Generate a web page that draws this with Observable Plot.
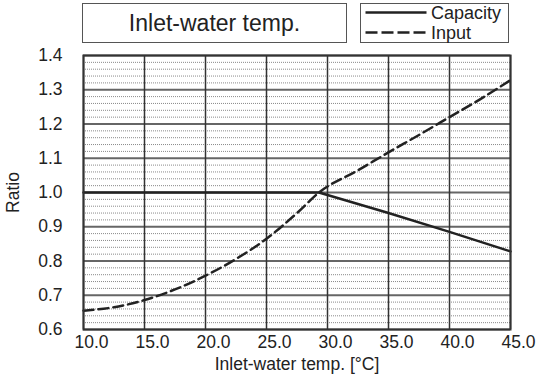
<!DOCTYPE html>
<html><head><meta charset="utf-8">
<script src="https://cdn.jsdelivr.net/npm/d3@7"></script>
<script src="https://cdn.jsdelivr.net/npm/@observablehq/plot@0.6"></script>
<style>
body{margin:0;background:#fff;font-family:"Liberation Sans",Arial,sans-serif;color:#222}
#wrap{position:relative;width:536px;height:378px;overflow:hidden}
#hdr{position:relative;height:48px}
.box{position:absolute;box-sizing:border-box;border:1.5px solid #555;background:#fff}
#title{left:82px;top:3px;width:265px;height:40px;font-size:23px;display:flex;align-items:center;justify-content:center}
#legend{left:360px;top:3px;width:149px;height:40px}
#legend svg{position:absolute;left:0;top:0;overflow:visible}
#chart svg{display:block}
</style></head>
<body>
<div id="wrap">
  <div id="hdr">
    <div class="box" id="title">Inlet-water temp.</div>
    <div class="box" id="legend"></div>
  </div>
  <div id="chart"></div>
</div>
<script>
// Data
const xTicks = [10, 15, 20, 25, 30, 35, 40, 45];
const yTicks = [0.6, 0.7, 0.8, 0.9, 1.0, 1.1, 1.2, 1.3, 1.4];
const seriesNames = ["Capacity", "Input"];
const capacityX = [10, 29.3, 35, 40, 45];
const capacityY = [1.0, 1.0, 0.94, 0.885, 0.828];
const inputX = [10, 12.5, 15, 17.5, 20, 22.5, 25, 27.5, 29.3, 32.5, 35, 37.5, 40, 42.5, 45];
const inputY = [0.655, 0.665, 0.686, 0.717, 0.757, 0.806, 0.865, 0.94, 1.0, 1.065, 1.117, 1.168, 1.22, 1.272, 1.328];

const capacity = capacityX.map((x, i) => ({x, y: capacityY[i]}));
const input = inputX.map((x, i) => ({x, y: inputY[i]}));
const minor = d3.range(30, 71).filter(v => v % 5 !== 0).map(v => v / 50);
const fmt = d3.format(".1f");
const font = '"Liberation Sans", Arial, sans-serif';

// Legend (HTML/SVG header)
const leg = d3.select("#legend").append("svg").attr("width", 146).attr("height", 37);
const rows = [{name: seriesNames[0], dash: null, y: 8.5}, {name: seriesNames[1], dash: "12,4", y: 28.5}];
rows.forEach(r => {
  leg.append("line").attr("x1", 4.5).attr("x2", 65.5).attr("y1", r.y).attr("y2", r.y)
    .attr("stroke", "#222").attr("stroke-width", 2.5).attr("stroke-dasharray", r.dash);
  leg.append("text").attr("x", 70).attr("y", r.y + 6.5).attr("font-size", 18)
    .attr("font-family", font).attr("fill", "#222").text(r.name);
});

const chart = Plot.plot({
  width: 536,
  height: 330,
  marginLeft: 83,
  marginRight: 26,
  marginTop: 7,
  marginBottom: 49,
  style: {fontFamily: font, fontSize: "17.5px", color: "#222", background: "#fff", overflow: "visible"},
  x: {domain: [10, 45]},
  y: {domain: [0.6, 1.4]},
  marks: [
    Plot.ruleY(minor, {stroke: "#8a8a8a", strokeWidth: 1, strokeDasharray: "1,1"}),
    Plot.ruleY(yTicks, {stroke: "#666", strokeWidth: 2}),
    Plot.ruleX(xTicks, {stroke: "#333", strokeWidth: 1.5}),
    Plot.line(input, {x: "x", y: "y", curve: "monotone-x", stroke: "#222", strokeWidth: 2.5, strokeDasharray: "10,5"}),
    Plot.line(capacity, {x: "x", y: "y", stroke: "#222", strokeWidth: 2.5}),
    Plot.frame({stroke: "#333", strokeWidth: 2}),
    Plot.axisX({ticks: xTicks, tickFormat: fmt, tickSize: 0, tickPadding: 6, dx: 8,
      label: "Inlet-water temp. [°C]", labelAnchor: "center", labelOffset: 40, labelArrow: "none"}),
    Plot.axisY({ticks: yTicks, tickFormat: fmt, tickSize: 0, tickPadding: 21,
      label: "Ratio", labelAnchor: "center", labelOffset: 77, labelArrow: "none"})
  ]
});
document.getElementById("chart").appendChild(chart);
</script>
</body></html>
